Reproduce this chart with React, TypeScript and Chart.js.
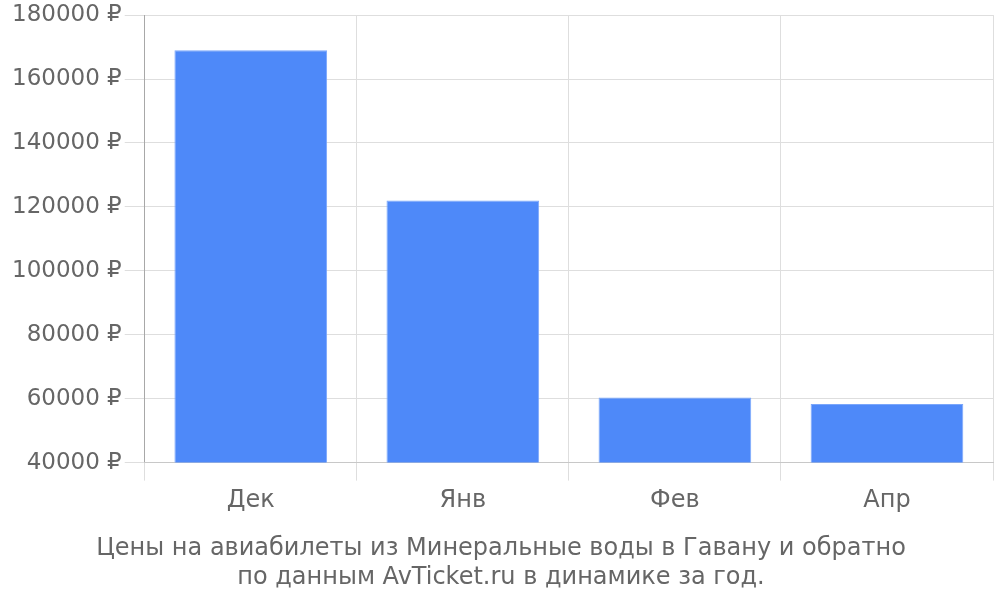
import React, { useEffect, useRef } from "react";
import Chart from "chart.js/auto";

const months = ["Дек", "Янв", "Фев", "Апр"];
const prices = [169000, 122000, 60400, 58300];
const titleLines = [
  "Цены на авиабилеты из Минеральные воды в Гавану и обратно",
  "по данным AvTicket.ru в динамике за год.",
];

const FONT = "'DejaVu Sans', sans-serif";

const App: React.FC = () => {
  const canvasRef = useRef<HTMLCanvasElement>(null);

  useEffect(() => {
    let chart: Chart | null = null;
    const ctx = canvasRef.current?.getContext("2d");
    if (ctx) {
      chart = new Chart(ctx, {
        type: "bar",
        data: {
          labels: months,
          datasets: [
            {
              data: prices,
              backgroundColor: "#4e89f9",
              borderColor: "#7aa6fb",
              borderWidth: 1,
            },
          ],
        },
        options: {
          animation: false,
          responsive: false,
          layout: { padding: { left: 9, right: 7, top: 0, bottom: 8 } },
          plugins: {
            legend: { display: false },
            tooltip: { enabled: false },
            title: {
              display: true,
              position: "bottom",
              text: titleLines,
              color: "#666",
              font: { family: FONT, size: 24, weight: "normal", lineHeight: 1.2 },
              padding: { top: 13, bottom: 0 },
            },
          },
          scales: {
            y: {
              min: 40000,
              max: 180000,
              ticks: {
                stepSize: 20000,
                color: "#666",
                padding: 3,
                font: { family: FONT, size: 23, lineHeight: 1.05 },
                callback: (v) => `${v} ₽`,
              },
              grid: { color: "#dedede", tickLength: 20 },
              border: { color: "#a8a8a8" },
            },
            x: {
              ticks: {
                color: "#666",
                padding: 6,
                font: { family: FONT, size: 24 },
              },
              grid: { color: "#dedede", tickLength: 18 },
              border: { color: "#c8c8c8" },
            },
          },
        },
      });
    }
    return () => {
      if (chart) chart.destroy();
    };
  }, []);

  return (
    <div style={{ position: "absolute", left: 0, top: 0, width: 1000, height: 600, background: "#fff" }}>
      <canvas ref={canvasRef} width={1000} height={600} />
    </div>
  );
};

export default App;
